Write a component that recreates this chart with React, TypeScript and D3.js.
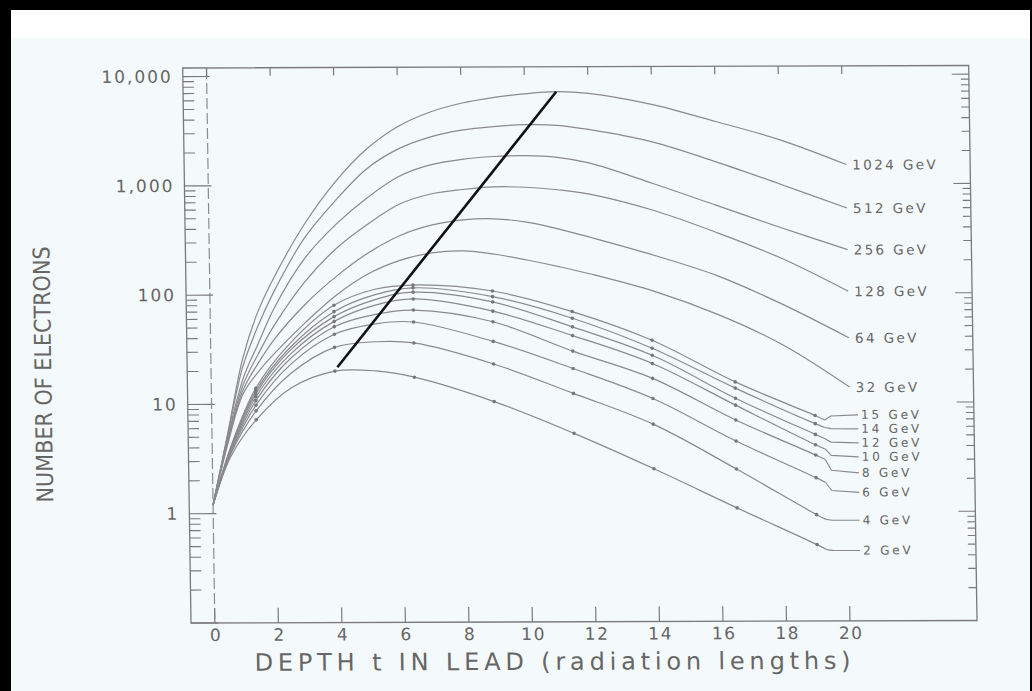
import React from "react";
import * as d3 from "d3";

const W = 1032;
const H = 691;

// high energy showers, read on one depth grid (radiation lengths)
const highDepths = [0, 0.5, 1, 1.5, 2, 3, 4, 5, 6, 7, 8, 9, 10, 11, 12, 14, 16, 18, 20.1];
const n1024 = [1.2, 5.5, 26, 70, 140, 440, 1080, 2150, 3450, 4650, 5600, 6300, 6800, 7100, 6850, 5400, 3750, 2550, 1500];
const n512 = [1.2, 5.3, 22, 52, 105, 330, 730, 1420, 2150, 2750, 3180, 3420, 3550, 3500, 3200, 2450, 1600, 1000, 600];
const n256 = [1.2, 5.0, 17, 36, 74, 215, 440, 770, 1200, 1530, 1720, 1820, 1850, 1780, 1580, 1020, 640, 400, 250];
const n128 = [1.2, 4.8, 15, 29, 52, 132, 265, 440, 670, 830, 910, 960, 950, 900, 820, 580, 360, 210, 104];
const n64 = [1.2, 4.6, 13.5, 24, 39, 82, 148, 240, 345, 430, 480, 490, 455, 395, 330, 225, 145, 80, 39];
const n32 = [1.2, 4.4, 12.5, 20, 29, 56, 100, 155, 205, 240, 250, 232, 205, 178, 152, 105, 64, 34, 13.8];
const highLabels = ["1024 GeV", "512 GeV", "256 GeV", "128 GeV", "64 GeV", "32 GeV"];

// low energy showers with measured points
const lowDepths = [0, 0.6, 1.4, 2.5, 3.9, 5.2, 6.4, 8.9, 11.4, 13.9, 16.5, 19.0, 19.3];
const measuredDepths = [1.4, 3.9, 6.4, 8.9, 11.4, 13.9, 16.5, 19.0];
const n15 = [1.2, 4.2, 14, 36, 80, 112, 122, 107, 69, 37.5, 15.5, 7.6, 6.9];
const n14 = [1.2, 4.1, 13.2, 33, 70, 100, 115, 95, 60, 31.7, 13.6, 6.4, 5.9];
const n12 = [1.2, 4.0, 12.5, 31, 63, 90, 105, 85, 50, 27.3, 11, 5.1, 4.65];
const n10 = [1.2, 3.9, 11.7, 28.5, 57, 80, 91, 70, 41.6, 23, 9.5, 4.1, 3.75];
const n8 = [1.2, 3.8, 10.8, 26, 51, 66, 72, 56, 30, 16.8, 6.95, 3.3, 3.0];
const n6 = [1.2, 3.7, 9.8, 23, 43.5, 54, 56, 37, 20.8, 11, 4.46, 2.05, 1.85];
const n4 = [1.2, 3.6, 8.7, 19, 33, 37, 36, 23, 12.3, 6.4, 2.47, 0.94, 0.85];
const n2 = [1.2, 3.4, 7.2, 14, 20, 20, 17.5, 10.4, 5.3, 2.5, 1.09, 0.5, 0.45];
const lowLabels = ["15 GeV", "14 GeV", "12 GeV", "10 GeV", "8 GeV", "6 GeV", "4 GeV", "2 GeV"];
// extra nudge of the crowded labels, in pixels
const lowLabelNudge = [3, 3, 3, 3, 5, 9, 0, 0];

// line through the shower maxima
const maxLineDepth = [3.98, 11.0];
const maxLineCount = [21.7, 7100];

const xTicks = [0, 2, 4, 6, 8, 10, 12, 14, 16, 18, 20];
const yTicks = [1, 10, 100, 1000, 10000];
const yTickLabels = ["1", "10", "100", "1,000", "10,000"];

const ink = "#666";
const lineCol = "#8a8a8a";
const font = "'DejaVu Sans', Verdana, sans-serif";

function spread(ys: number[], gap: number) {
  const out = ys.slice();
  for (let it = 0; it < 300; it++) {
    for (let i = 1; i < out.length; i++) {
      const d = out[i] - out[i - 1];
      if (d < gap) {
        const s = (gap - d) / 2;
        out[i - 1] -= s;
        out[i] += s;
      }
    }
  }
  return out;
}

export default function App() {
  const x = d3.scaleLinear().domain([-0.75, 24]).range([191, 977]);
  const y = d3.scaleLog().domain([0.1, 12000]).range([623, 68]);

  const line = d3
    .line<[number, number]>()
    .x((d) => x(d[0]))
    .y((d) => y(d[1]))
    .curve(d3.curveCatmullRom.alpha(0.5));

  const highSeries = [n1024, n512, n256, n128, n64, n32].map((vals, i) => ({
    label: highLabels[i],
    pts: highDepths.map((t, j) => [t, vals[j]] as [number, number]),
  }));
  const lowSeries = [n15, n14, n12, n10, n8, n6, n4, n2].map((vals, i) => ({
    label: lowLabels[i],
    pts: lowDepths.map((t, j) => [t, vals[j]] as [number, number]),
  }));

  const lowEndY = lowSeries.map((s) => y(s.pts[s.pts.length - 1][1]));
  const lowLabelY = spread(lowEndY, 14).map((v, i) => v + 1 + lowLabelNudge[i]);

  const [x0, x1] = x.range();
  const yb = y(0.1);
  const yt = y(12000);

  const allTicks = y.ticks();
  const isMajor = (v: number) => Math.abs(Math.log10(v) - Math.round(Math.log10(v))) < 1e-6;

  const k = 0.015;
  const m = 0.0032;
  const skew = `matrix(1,${-m},${k},1,${-k * 623},${m * 191})`;

  return (
    <svg
      width={W}
      height={H}
      style={{ position: "absolute", left: 0, top: 0, display: "block" }}
    >
      <rect x={0} y={0} width={W} height={H} fill="#000" />
      <rect x={11} y={10} width={W - 13} height={H - 10} fill="#f4f9fb" />
      <rect x={11} y={10} width={W - 13} height={28} fill="#ffffff" />

      <g transform={skew}>
        {/* frame */}
        <rect x={x0} y={yt} width={x1 - x0} height={yb - yt} fill="none" stroke="#7a7a7a" strokeWidth={1.3} />

        {/* dashed zero depth line */}
        <line x1={x(0)} x2={x(0)} y1={yt} y2={yb} stroke="#8c8c8c" strokeWidth={1.2} strokeDasharray="11 4" />

        {/* bottom and top ticks */}
        {xTicks.map((t) => (
          <g key={"xt" + t}>
            <line x1={x(t)} x2={x(t)} y1={yb} y2={yb - 15} stroke="#7a7a7a" strokeWidth={1.2} />
            <line x1={x(t)} x2={x(t)} y1={yt} y2={yt + 8} stroke="#7a7a7a" strokeWidth={1.2} />
            <text
              x={x(t) + 1}
              y={yb + 12}
              textAnchor="middle"
              dominantBaseline="central"
              fontFamily={font}
              fontSize={17}
              letterSpacing={1.5}
              fill={ink}
            >
              {t}
            </text>
          </g>
        ))}

        {/* left and right log ticks */}
        {allTicks.map((v, i) => {
          const major = isMajor(v);
          const yy = y(v);
          return (
            <g key={"yt" + i}>
              <line x1={x0} x2={x0 + (major ? 27 : 11)} y1={yy} y2={yy} stroke="#7a7a7a" strokeWidth={1.1} />
              <line x1={x1} x2={x1 - (major ? 17 : 8)} y1={yy} y2={yy} stroke="#7a7a7a" strokeWidth={1.1} />
            </g>
          );
        })}

        {yTicks.map((v, i) => (
          <text
            key={"yl" + v}
            x={x0 - 10}
            y={y(v)}
            textAnchor="end"
            dominantBaseline="central"
            fontFamily={font}
            fontSize={17}
            letterSpacing={2}
            fill={ink}
          >
            {yTickLabels[i]}
          </text>
        ))}

        {/* high energy curves */}
        {highSeries.map((s) => {
          const end = s.pts[s.pts.length - 1];
          return (
            <g key={s.label}>
              <path d={line(s.pts) || ""} fill="none" stroke={lineCol} strokeWidth={1.2} />
              <text
                x={x(end[0]) + 6}
                y={y(end[1])}
                dominantBaseline="central"
                fontFamily={font}
                fontSize={13.5}
                letterSpacing={2.4}
                fill={ink}
              >
                {s.label}
              </text>
            </g>
          );
        })}

        {/* low energy curves with points and leaders */}
        {lowSeries.map((s, i) => {
          const end = s.pts[s.pts.length - 1];
          const ex = x(end[0]);
          const ey = y(end[1]);
          const lx = x(20.1) + 11;
          const ly = lowLabelY[i];
          return (
            <g key={s.label}>
              <path d={line(s.pts) || ""} fill="none" stroke={lineCol} strokeWidth={1.2} />
              {s.pts
                .filter((p) => measuredDepths.includes(p[0]))
                .map((p) => (
                  <circle key={p[0]} cx={x(p[0])} cy={y(p[1])} r={1.8} fill="#777" />
                ))}
              <path
                d={`M${ex},${ey}L${ex + 6},${(ey + ly) / 2 + (ly - ey) * 0.3}L${lx - 3},${ly}`}
                fill="none"
                stroke={lineCol}
                strokeWidth={1.1}
              />
              <text
                x={lx}
                y={ly}
                dominantBaseline="central"
                fontFamily={font}
                fontSize={12}
                letterSpacing={2.8}
                fill={ink}
              >
                {s.label}
              </text>
            </g>
          );
        })}

        {/* line of shower maxima */}
        <line
          x1={x(maxLineDepth[0])}
          y1={y(maxLineCount[0])}
          x2={x(maxLineDepth[1])}
          y2={y(maxLineCount[1])}
          stroke="#111"
          strokeWidth={2.6}
        />

        {/* axis titles */}
        <text
          x={254}
          y={663}
          dominantBaseline="central"
          fontFamily={font}
          fontSize={24}
          textLength={596}
          lengthAdjust="spacing"
          fill={ink}
        >
          DEPTH t IN LEAD (radiation lengths)
        </text>
        <text
          transform={`translate(47, ${(246 + 502) / 2}) rotate(-90)`}
          textAnchor="middle"
          dominantBaseline="central"
          fontFamily="'DejaVu Sans Condensed', 'Liberation Sans Narrow', 'DejaVu Sans', sans-serif"
          fontSize={23}
          textLength={256}
          lengthAdjust="spacingAndGlyphs"
          fill={ink}
        >
          NUMBER OF ELECTRONS
        </text>
      </g>
    </svg>
  );
}
